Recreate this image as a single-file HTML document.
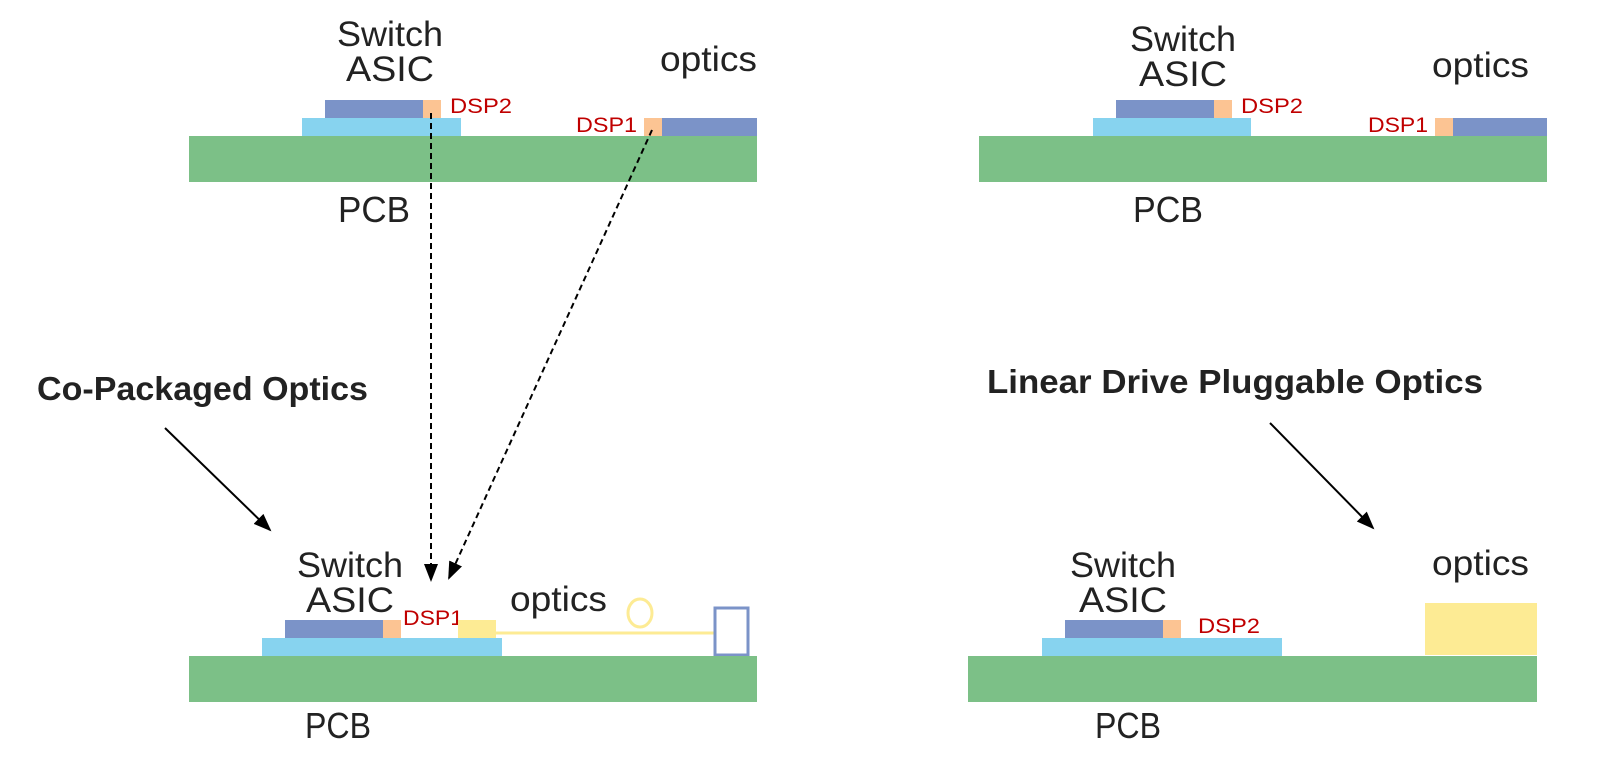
<!DOCTYPE html>
<html><head><meta charset="utf-8"><style>
html,body{margin:0;padding:0;background:#fff;}
svg{display:block;}
text{font-family:"Liberation Sans","DejaVu Sans",sans-serif;fill:#222;}
.big{font-size:35px;}
.pcb{font-size:36px;}
.dsp{font-size:21px;fill:#c00000;}
.bold{font-size:33px;font-weight:bold;}
</style></head><body>
<svg width="1600" height="767" viewBox="0 0 1600 767" xmlns="http://www.w3.org/2000/svg">
<defs>
<marker id="ah2" markerWidth="18" markerHeight="18" refX="16" refY="9" orient="auto" markerUnits="userSpaceOnUse">
<path d="M0,2 L18,9 L0,16 z" fill="#000"/>
</marker>
</defs>

<!-- Top left -->
<text class="big" x="337" y="46" textLength="106" lengthAdjust="spacingAndGlyphs">Switch</text>
<text class="big" x="346" y="81" textLength="88" lengthAdjust="spacingAndGlyphs">ASIC</text>
<text class="big" x="660" y="71" textLength="97" lengthAdjust="spacingAndGlyphs">optics</text>
<rect x="325" y="100" width="98" height="18" fill="#7b93c8"/>
<rect x="423" y="100" width="18" height="18" fill="#fcc493"/>
<text class="dsp" x="450" y="113" textLength="62" lengthAdjust="spacingAndGlyphs">DSP2</text>
<rect x="302" y="118" width="159" height="18" fill="#87d3ef"/>
<text class="dsp" x="576" y="132" textLength="61" lengthAdjust="spacingAndGlyphs">DSP1</text>
<rect x="644" y="118" width="18" height="18" fill="#fcc493"/>
<rect x="662" y="118" width="95" height="18" fill="#7b93c8"/>
<rect x="189" y="136" width="568" height="46" fill="#7cc087"/>
<text class="pcb" x="338" y="222" textLength="72" lengthAdjust="spacingAndGlyphs">PCB</text>

<!-- dashed connectors -->
<line x1="431" y1="113" x2="431" y2="580" stroke="#000" stroke-width="2" stroke-dasharray="6,4" marker-end="url(#ah2)"/>
<line x1="652" y1="130" x2="449" y2="578" stroke="#000" stroke-width="2" stroke-dasharray="6,4" marker-end="url(#ah2)"/>

<!-- Bottom left -->
<text class="bold" x="37" y="400" textLength="331" lengthAdjust="spacingAndGlyphs">Co-Packaged Optics</text>
<line x1="165" y1="428" x2="270" y2="530" stroke="#000" stroke-width="2" marker-end="url(#ah2)"/>
<text class="big" x="297" y="577" textLength="106" lengthAdjust="spacingAndGlyphs">Switch</text>
<text class="big" x="306" y="612" textLength="88" lengthAdjust="spacingAndGlyphs">ASIC</text>
<text class="big" x="510" y="611" textLength="97" lengthAdjust="spacingAndGlyphs">optics</text>
<text class="dsp" x="403" y="625" textLength="60" lengthAdjust="spacingAndGlyphs">DSP1</text>
<rect x="285" y="620" width="98" height="18" fill="#7b93c8"/>
<rect x="383" y="620" width="18" height="18" fill="#fcc493"/>
<rect x="262" y="638" width="240" height="18" fill="#87d3ef"/>
<rect x="458" y="620" width="38" height="18" fill="#fdeb94"/>
<line x1="496" y1="633" x2="714" y2="633" stroke="#fdeb94" stroke-width="3"/>
<ellipse cx="640" cy="613" rx="12" ry="14" fill="none" stroke="#fdeb94" stroke-width="3"/>
<rect x="715" y="608" width="33" height="47" fill="none" stroke="#7b93c8" stroke-width="3"/>
<rect x="189" y="656" width="568" height="46" fill="#7cc087"/>
<text class="pcb" x="305" y="738" textLength="66" lengthAdjust="spacingAndGlyphs">PCB</text>

<!-- Top right -->
<text class="big" x="1130" y="51" textLength="106" lengthAdjust="spacingAndGlyphs">Switch</text>
<text class="big" x="1139" y="86" textLength="88" lengthAdjust="spacingAndGlyphs">ASIC</text>
<text class="big" x="1432" y="77" textLength="97" lengthAdjust="spacingAndGlyphs">optics</text>
<rect x="1116" y="100" width="98" height="18" fill="#7b93c8"/>
<rect x="1214" y="100" width="18" height="18" fill="#fcc493"/>
<text class="dsp" x="1241" y="113" textLength="62" lengthAdjust="spacingAndGlyphs">DSP2</text>
<rect x="1093" y="118" width="158" height="18" fill="#87d3ef"/>
<text class="dsp" x="1368" y="132" textLength="60" lengthAdjust="spacingAndGlyphs">DSP1</text>
<rect x="1435" y="118" width="18" height="18" fill="#fcc493"/>
<rect x="1453" y="118" width="94" height="18" fill="#7b93c8"/>
<rect x="979" y="136" width="568" height="46" fill="#7cc087"/>
<text class="pcb" x="1133" y="222" textLength="70" lengthAdjust="spacingAndGlyphs">PCB</text>

<!-- Bottom right -->
<text class="bold" x="987" y="393" textLength="496" lengthAdjust="spacingAndGlyphs">Linear Drive Pluggable Optics</text>
<line x1="1270" y1="423" x2="1373" y2="528" stroke="#000" stroke-width="2" marker-end="url(#ah2)"/>
<text class="big" x="1070" y="577" textLength="106" lengthAdjust="spacingAndGlyphs">Switch</text>
<text class="big" x="1079" y="612" textLength="88" lengthAdjust="spacingAndGlyphs">ASIC</text>
<text class="big" x="1432" y="575" textLength="97" lengthAdjust="spacingAndGlyphs">optics</text>
<rect x="1065" y="620" width="98" height="18" fill="#7b93c8"/>
<rect x="1163" y="620" width="18" height="18" fill="#fcc493"/>
<text class="dsp" x="1198" y="633" textLength="62" lengthAdjust="spacingAndGlyphs">DSP2</text>
<rect x="1042" y="638" width="240" height="18" fill="#87d3ef"/>
<rect x="1425" y="603" width="112" height="52" fill="#fdeb94"/>
<rect x="968" y="656" width="569" height="46" fill="#7cc087"/>
<text class="pcb" x="1095" y="738" textLength="66" lengthAdjust="spacingAndGlyphs">PCB</text>
</svg>
</body></html>
